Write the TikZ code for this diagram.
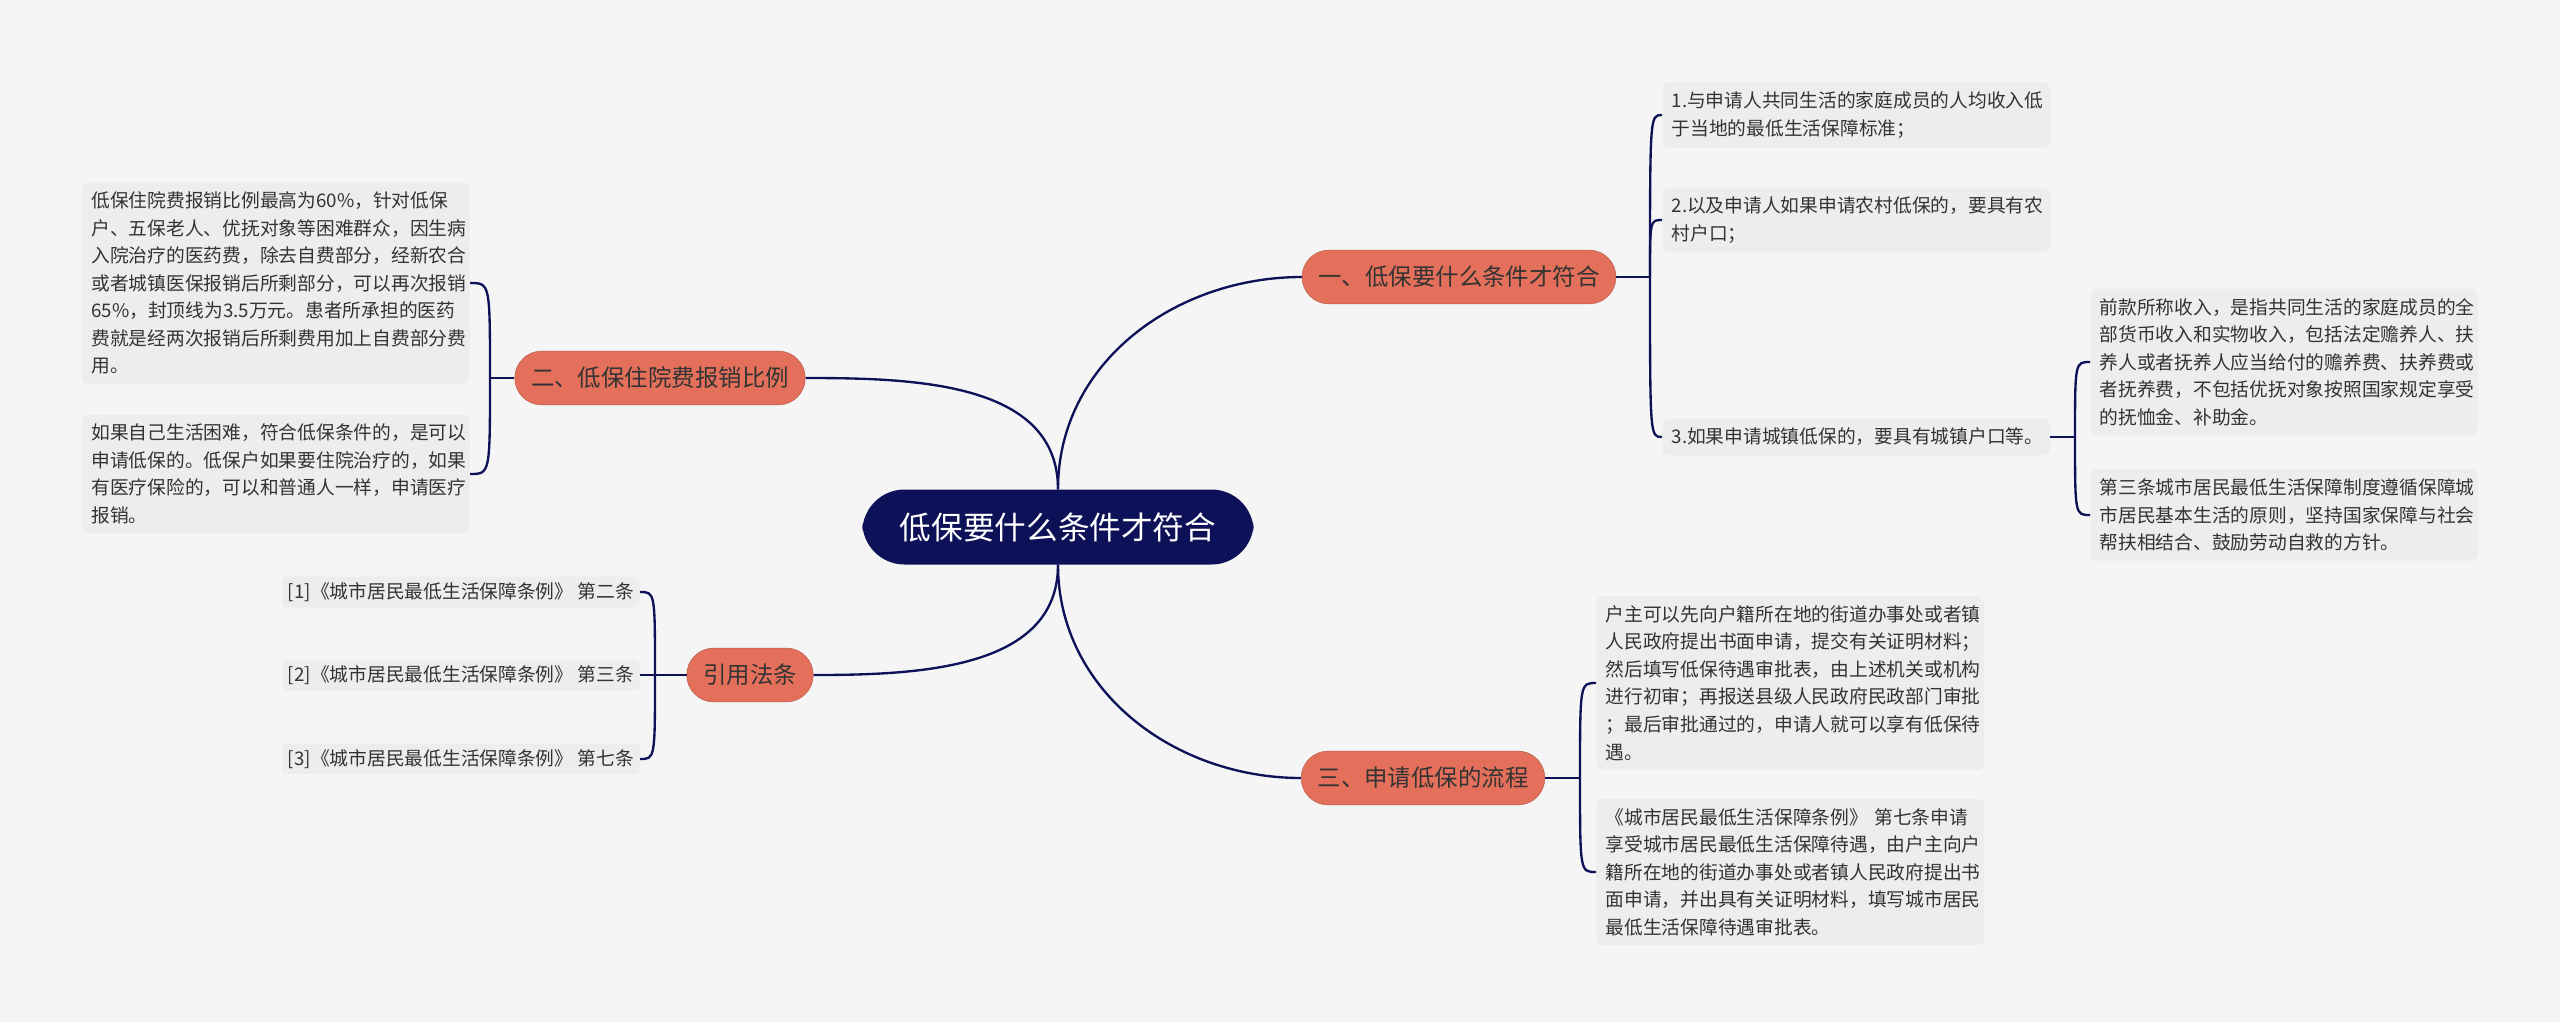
\documentclass[tikz,border=0pt]{standalone}
\usepackage{fontspec}
\setmainfont{Noto Sans CJK SC}
\usetikzlibrary{calc}
\definecolor{navy}{HTML}{0D1158}
\definecolor{salmon}{HTML}{E4705B}
\definecolor{leafgray}{HTML}{EDEDED}
\definecolor{bggray}{HTML}{F5F5F5}
\definecolor{txt}{HTML}{333333}
\tikzset{
  rootbox/.style={fill=navy, text=white, rounded corners=36pt, minimum width=334pt, minimum height=64pt, font=\fontsize{27}{30}\selectfont},
  topic/.style={fill=salmon, draw=salmon!80!black, text=txt, rounded corners=23pt, minimum height=46pt, inner xsep=14pt, font=\fontsize{20}{24}\selectfont},
  leaf/.style={fill=leafgray, text=txt, rounded corners=6pt, align=left, inner sep=8pt, text width=315pt, font=\fontsize{16}{23.5}\selectfont},
  refleaf/.style={fill=leafgray, text=txt, rounded corners=4pt, inner sep=5pt, font=\fontsize{16}{20}\selectfont},
  link/.style={draw=navy, line width=2pt}
}
\begin{document}
\begin{tikzpicture}[x=0.03cm, y=-0.03cm]
  \useasboundingbox[fill=bggray] (0,0) rectangle (2560,1022);

  % root and main topics
  \node[rootbox] (root) at (1058,527) {低保要什么条件才符合};
  \node[topic] (cond) at (1459,277) {一、低保要什么条件才符合};
  \node[topic] (fee) at (660,378) {二、低保住院费报销比例};
  \node[topic] (law) at (750,675) {引用法条};
  \node[topic] (flow) at (1423,778) {三、申请低保的流程};

  \draw[link] (root.north) to[out=90,in=180] (cond.west);
  \draw[link] (root.north) to[out=90,in=0] (fee.east);
  \draw[link] (root.south) to[out=-90,in=0] (law.east);
  \draw[link] (root.south) to[out=-90,in=180] (flow.west);

  % conditions
  \node[leaf, anchor=west] (c1) at (1662,115) {1.与申请人共同生活的家庭成员的人均收入低\\于当地的最低生活保障标准；};
  \node[leaf, anchor=west] (c2) at (1662,220) {2.以及申请人如果申请农村低保的，要具有农\\村户口；};
  \node[leaf, anchor=west] (c3) at (1662,437) {3.如果申请城镇低保的，要具有城镇户口等。};
  \node[leaf, anchor=west] (c31) at (2090,362) {前款所称收入，是指共同生活的家庭成员的全\\部货币收入和实物收入，包括法定赡养人、扶\\养人或者抚养人应当给付的赡养费、扶养费或\\者抚养费，不包括优抚对象按照国家规定享受\\的抚恤金、补助金。};
  \node[leaf, anchor=west] (c32) at (2090,515) {第三条城市居民最低生活保障制度遵循保障城\\市居民基本生活的原则，坚持国家保障与社会\\帮扶相结合、鼓励劳动自救的方针。};

  \coordinate (jc) at (1650,277);
  \draw[link] (cond.east) -- (jc);
  \foreach \c in {c1,c2,c3}
    \draw[link] (jc) .. controls ($(jc|-\c.west)$) .. (\c.west);
  \coordinate (jc3) at (2075,437);
  \draw[link] (c3.east) -- (jc3);
  \foreach \c in {c31,c32}
    \draw[link] (jc3) .. controls ($(jc3|-\c.west)$) .. (\c.west);

  % hospital fees
  \node[leaf, anchor=east] (f1) at (470,283) {低保住院费报销比例最高为60\%，针对低保\\户、五保老人、优抚对象等困难群众，因生病\\入院治疗的医药费，除去自费部分，经新农合\\或者城镇医保报销后所剩部分，可以再次报销\\65\%，封顶线为3.5万元。患者所承担的医药\\费就是经两次报销后所剩费用加上自费部分费\\用。};
  \node[leaf, anchor=east] (f2) at (470,474) {如果自己生活困难，符合低保条件的，是可以\\申请低保的。低保户如果要住院治疗的，如果\\有医疗保险的，可以和普通人一样，申请医疗\\报销。};

  \coordinate (jf) at (490,378);
  \draw[link] (fee.west) -- (jf);
  \foreach \c in {f1,f2}
    \draw[link] (jf) .. controls ($(jf|-\c.east)$) .. (\c.east);

  % cited laws
  \node[refleaf, anchor=east] (l1) at (640,592) {[1]《城市居民最低生活保障条例》 第二条};
  \node[refleaf, anchor=east] (l2) at (640,675) {[2]《城市居民最低生活保障条例》 第三条};
  \node[refleaf, anchor=east] (l3) at (640,759) {[3]《城市居民最低生活保障条例》 第七条};

  \coordinate (jl) at (655,675);
  \draw[link] (law.west) -- (jl);
  \foreach \c in {l1,l2,l3}
    \draw[link] (jl) .. controls ($(jl|-\c.east)$) .. (\c.east);

  % application process
  \node[leaf, anchor=west] (p1) at (1596,683) {户主可以先向户籍所在地的街道办事处或者镇\\人民政府提出书面申请，提交有关证明材料；\\然后填写低保待遇审批表，由上述机关或机构\\进行初审；再报送县级人民政府民政部门审批\\；最后审批通过的，申请人就可以享有低保待\\遇。};
  \node[leaf, anchor=west] (p2) at (1596,872) {《城市居民最低生活保障条例》 第七条申请\\享受城市居民最低生活保障待遇，由户主向户\\籍所在地的街道办事处或者镇人民政府提出书\\面申请，并出具有关证明材料，填写城市居民\\最低生活保障待遇审批表。};

  \coordinate (jp) at (1580,778);
  \draw[link] (flow.east) -- (jp);
  \foreach \c in {p1,p2}
    \draw[link] (jp) .. controls ($(jp|-\c.west)$) .. (\c.west);
\end{tikzpicture}
\end{document}
